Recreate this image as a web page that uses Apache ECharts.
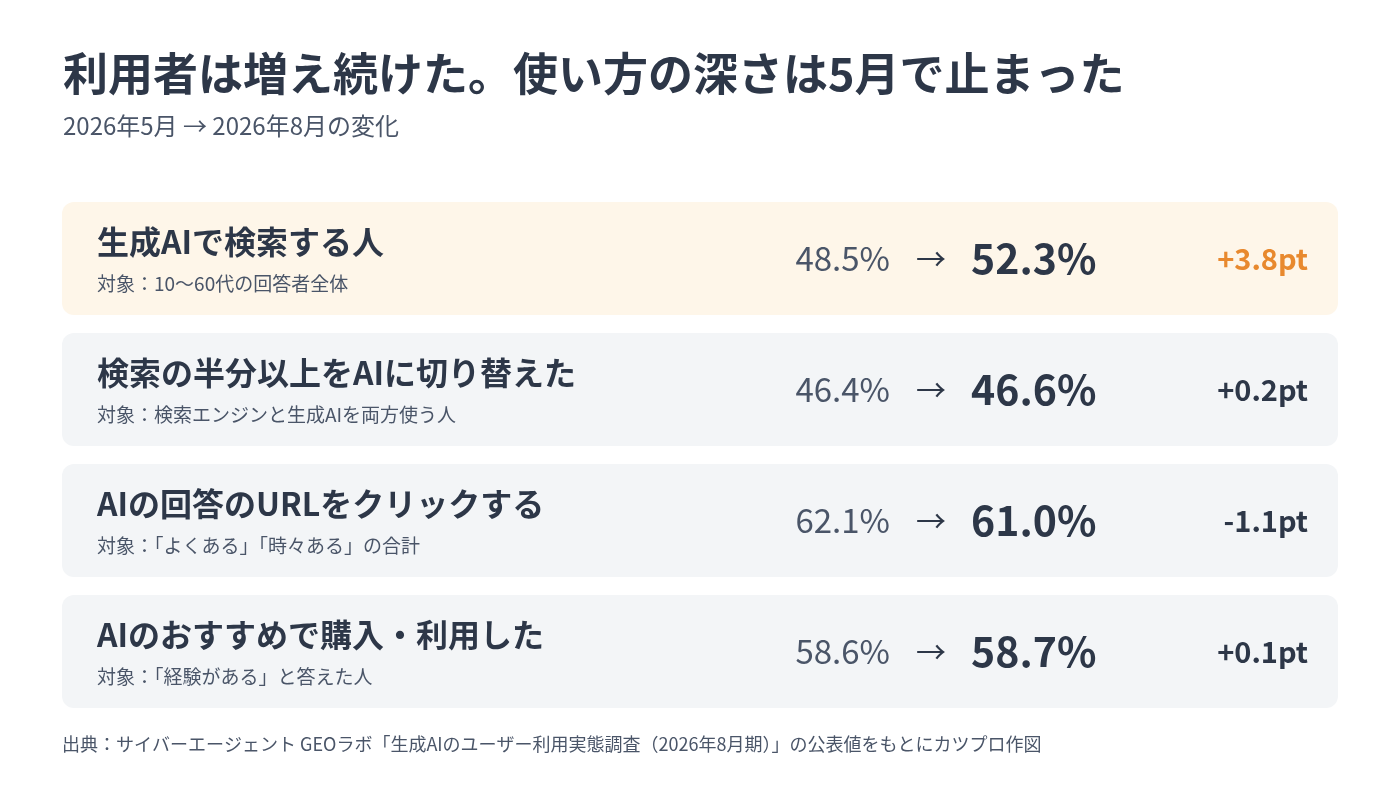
<!DOCTYPE html>
<html><head><meta charset="utf-8">
<script src="https://cdn.jsdelivr.net/npm/echarts@6/dist/echarts.min.js"></script>
<style>html,body{margin:0;background:#fff}#c{width:1400px;height:787px}</style>
</head><body><div id="c"></div>
<script>
const categories = ['生成AIで検索する人','検索の半分以上をAIに切り替えた','AIの回答のURLをクリックする','AIのおすすめで購入・利用した'];
const targets = ['対象：10〜60代の回答者全体','対象：検索エンジンと生成AIを両方使う人','対象：「よくある」「時々ある」の合計','対象：「経験がある」と答えた人'];
const may = [48.5, 46.4, 62.1, 58.6];
const aug = [52.3, 46.6, 61.0, 58.7];
const delta = ['+3.8pt','+0.2pt','-1.1pt','+0.1pt'];
const F = '"Noto Sans CJK JP","Noto Sans",sans-serif';
const chart = echarts.init(document.getElementById('c'));
chart.setOption({
  backgroundColor:'#fff',
  title:{text:'利用者は増え続けた。使い方の深さは5月で止まった',subtext:'2026年5月 → 2026年8月の変化',left:58,top:46,itemGap:18,
    textStyle:{fontFamily:F,fontSize:45,fontWeight:'bold',color:'#2d3748'},
    subtextStyle:{fontFamily:F,fontSize:24,color:'#4a5568'}},
  graphic:[{type:'text',left:62,top:735,style:{text:'出典：サイバーエージェント GEOラボ「生成AIのユーザー利用実態調査（2026年8月期）」の公表値をもとにカツプロ作図',font:'18px '+F,fill:'#4a5568'}}],
  grid:{left:62,right:62,top:193,height:524},
  xAxis:{type:'value',min:0,max:100,show:false},
  yAxis:{type:'category',data:categories,inverse:true,show:false},
  series:[{type:'custom',data:categories.map((c,i)=>[i]),
    renderItem:function(params,api){
      const i=api.value(0);
      const cs=params.coordSys;
      const cy=api.coord([0,i])[1];
      const hi=i===0;
      const x0=cs.x, w=cs.width, h=113, top=cy-h/2;
      return {type:'group',children:[
        {type:'rect',shape:{x:x0,y:top,width:w,height:h,r:12},style:{fill:hi?'#fef6e9':'#f3f5f7'}},
        {type:'text',style:{x:x0+35,y:cy-17,text:categories[i],font:'bold 32px '+F,fill:'#2d3748',verticalAlign:'middle'}},
        {type:'text',style:{x:x0+35,y:cy+25,text:targets[i],font:'19px '+F,fill:'#4a5568',verticalAlign:'middle'}},
        {type:'text',style:{x:x0+828,y:cy,text:may[i].toFixed(1)+'%',font:'33px '+F,fill:'#4a5568',align:'right',verticalAlign:'middle'}},
        {type:'text',style:{x:x0+869,y:cy,text:'→',font:'30px '+F,fill:'#2d3748',align:'center',verticalAlign:'middle'}},
        {type:'text',style:{x:x0+909,y:cy,text:aug[i].toFixed(1)+'%',font:'bold 41px '+F,fill:'#2d3748',verticalAlign:'middle'}},
        {type:'text',style:{x:x0+w-30,y:cy,text:delta[i],font:'bold 29px '+F,fill:hi?'#e8892e':'#2d3748',align:'right',verticalAlign:'middle'}}
      ]};
    }}]
});
</script></body></html>
